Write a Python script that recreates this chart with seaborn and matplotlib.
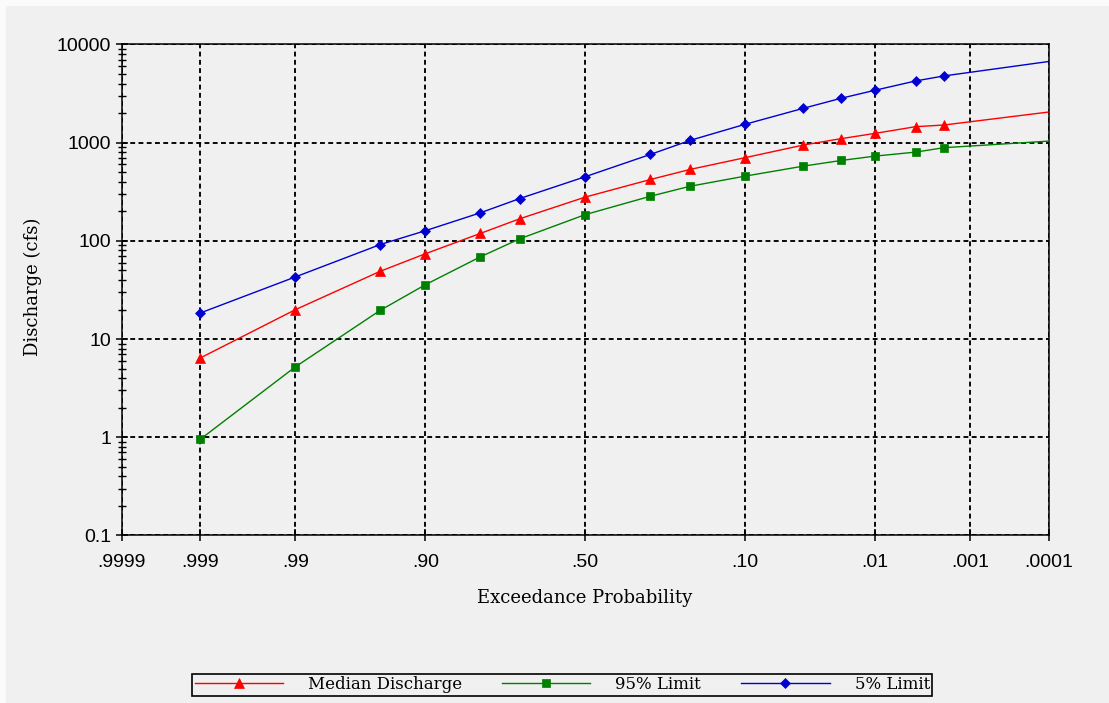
import numpy as np
import pandas as pd
import matplotlib
matplotlib.use("Agg")
import matplotlib.pyplot as plt
from matplotlib.patches import Rectangle
from matplotlib.ticker import FixedLocator, FixedFormatter, LogLocator, NullFormatter
import seaborn as sns
from statistics import NormalDist

# Frequency curve data: exceedance probability vs. discharge (cfs)
exceedance = [0.999, 0.99, 0.95, 0.90, 0.80, 0.70, 0.50, 0.30, 0.20, 0.10,
              0.04, 0.02, 0.01, 0.004, 0.002, 0.0001]
median_q = [6.4, 19.9, 49, 74, 119, 168, 279, 422, 534, 703,
            946, 1099, 1244, 1456, 1513, 2052]
limit95_q = [0.95, 5.2, 19.6, 35.8, 68.7, 105, 185, 285, 360, 456,
             577, 659, 730, 802, 889, 1038]
limit5_q = [18.4, 42.9, 91.7, 127, 193, 270, 450, 760, 1055, 1537,
            2239, 2833, 3420, 4253, 4783, 6710]
series_names = ["Median Discharge", "95% Limit", "5% Limit"]

x_ticks = [0.9999, 0.999, 0.99, 0.90, 0.50, 0.10, 0.01, 0.001, 0.0001]
x_tick_labels = [".9999", ".999", ".99", ".90", ".50", ".10", ".01", ".001", ".0001"]
y_ticks = [0.1, 1, 10, 100, 1000, 10000]
y_tick_labels = ["0.1", "1", "10", "100", "1000", "10000"]

BG = "#f0f0f0"
palette = {"Median Discharge": "#ff0000", "95% Limit": "#008000", "5% Limit": "#0000d0"}
markers = {"Median Discharge": "^", "95% Limit": "s", "5% Limit": "D"}
marker_sizes = {"Median Discharge": 6.5, "95% Limit": 6.3, "5% Limit": 5.3}

# Normal-probability axis: position is the standard normal quantile of p
_nd = NormalDist()
_inv = np.vectorize(_nd.inv_cdf, otypes=[float])
_cdf = np.vectorize(_nd.cdf, otypes=[float])


def prob_forward(p):
    p = np.clip(np.asarray(p, dtype=float), 1e-12, 1 - 1e-12)
    return _inv(p)


def prob_inverse(z):
    return _cdf(np.asarray(z, dtype=float))


df = pd.DataFrame({
    "exceedance": exceedance * 3,
    "discharge": median_q + limit95_q + limit5_q,
    "series": np.repeat(series_names, len(exceedance)),
})

fig = plt.figure(figsize=(11.09, 7.03), dpi=100, facecolor=BG)
# light window edge along the top and left
fig.patches.append(Rectangle((0, 1 - 6 / 703), 1, 6 / 703, transform=fig.transFigure,
                             facecolor="#fbfbfb", edgecolor="none", zorder=0))
fig.patches.append(Rectangle((0, 0), 6 / 1109, 1, transform=fig.transFigure,
                             facecolor="#fbfbfb", edgecolor="none", zorder=0))

ax = fig.add_axes([0.1097, 0.2383, 0.8358, 0.6984])
ax.set_facecolor(BG)
ax.set_xscale("function", functions=(prob_forward, prob_inverse))
ax.set_yscale("log")

sns.lineplot(data=df, x="exceedance", y="discharge", hue="series", style="series",
             palette=palette, markers=markers, dashes=False, sort=False,
             estimator=None, linewidth=1.0, markevery=list(range(len(exceedance) - 1)),
             legend=False, ax=ax, zorder=3)

for line, name in zip(ax.lines, series_names):
    line.set_markersize(marker_sizes[name])
    line.set_markeredgecolor(palette[name])
    line.set_markerfacecolor(palette[name])
    line.set_markeredgewidth(0.5)

# exceedance decreases from left to right
ax.set_xlim(0.9999, 0.0001)
ax.set_ylim(0.1, 10000)

ax.xaxis.set_major_locator(FixedLocator(x_ticks))
ax.xaxis.set_major_formatter(FixedFormatter(x_tick_labels))
ax.xaxis.set_minor_locator(FixedLocator([]))
ax.yaxis.set_major_locator(FixedLocator(y_ticks))
ax.yaxis.set_major_formatter(FixedFormatter(y_tick_labels))
ax.yaxis.set_minor_locator(LogLocator(base=10, subs=np.arange(2, 10)))
ax.yaxis.set_minor_formatter(NullFormatter())

ax.grid(True, which="major", color="black", linestyle=(0, (2.6, 1.8)), linewidth=1.35, zorder=1)
ax.set_axisbelow(True)

for s in ax.spines.values():
    s.set_color("black")
    s.set_linewidth(1.1)

ax.tick_params(axis="both", which="major", direction="inout", length=9, width=1.1,
               colors="black", labelsize=14)
ax.tick_params(axis="y", which="minor", direction="inout", length=6, width=1.0)
ax.tick_params(axis="x", pad=9)
ax.tick_params(axis="y", pad=3)
for lab in ax.get_xticklabels() + ax.get_yticklabels():
    lab.set_fontfamily("Liberation Sans")

label_font = {"family": "DejaVu Serif", "size": 13}
ax.set_xlabel("Exceedance Probability", fontdict=label_font)
ax.set_ylabel("Discharge (cfs)", fontdict=label_font)
ax.xaxis.set_label_coords(0.5, -0.108)
ax.yaxis.set_label_coords(-0.086, 0.507)

leg = fig.legend(ax.lines, series_names, loc="center", bbox_to_anchor=(0.507, 0.0263),
                 ncol=3, frameon=True, fancybox=False, edgecolor="black",
                 facecolor=BG, framealpha=1, handlelength=5.3, handletextpad=1.5,
                 columnspacing=2.4, borderpad=0.15, borderaxespad=0,
                 prop={"family": "DejaVu Serif", "size": 12})
leg.get_frame().set_linewidth(1.2)

fig.savefig("out.png", dpi=100, facecolor=BG)
